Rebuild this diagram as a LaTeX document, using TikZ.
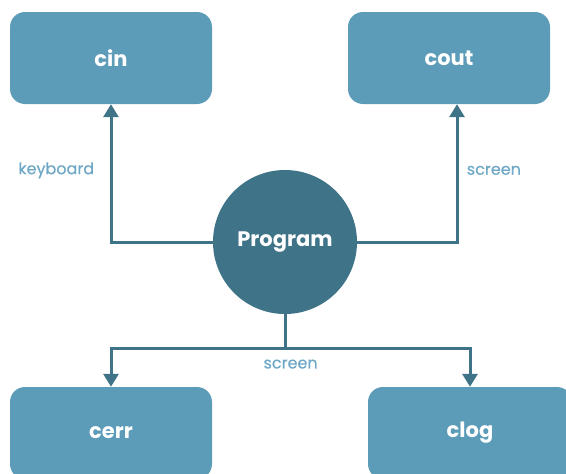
\documentclass[tikz,border=0pt]{standalone}
\usepackage{fontspec}
\setmainfont{Poppins}
\newfontfamily\lblfont[FakeBold=0.5]{Poppins}
\usepackage{xcolor}
\usepackage{tikz}
\usetikzlibrary{arrows.meta,positioning,shapes.geometric}

\definecolor{boxblue}{HTML}{5C9CB9}
\definecolor{deepblue}{HTML}{3E7388}
\definecolor{lblblue}{HTML}{6FA8C6}

\begin{document}
\begin{tikzpicture}[
x=1pt, y=-1pt,
stream/.style={rounded corners=15pt, fill=boxblue, text=white, font=\fontsize{21}{25}\selectfont\bfseries, minimum width=202pt, minimum height=92pt},
prog/.style={circle, fill=deepblue, text=white, font=\fontsize{21}{25}\selectfont\bfseries, minimum size=144pt, inner sep=0pt},
arr/.style={-{Triangle[length=13pt, width=15pt]}, line width=3pt, draw=deepblue},
lbl/.style={text=lblblue, font=\lblfont\fontsize{16}{19}\selectfont}
]
\useasboundingbox (0,0) rectangle (566,474);

\node[prog] (prog) at (285,242) {Program};
\node[stream] (cin) at (111,58) {cin};
\node[stream] (cout) at (449,58) {cout};
\node[stream] (cerr) at (111,433) {cerr};
\node[stream, minimum width=204pt] (clog) at (470,433) {clog};
\coordinate (split) at (prog.south |- 0,348);

\draw[arr] (prog.west) -| node[lbl, pos=0.76, left=12pt] {keyboard} (cin.south);
\draw[arr] (prog.east) -| node[lbl, pos=0.76, right=5pt] {screen} ([xshift=8pt]cout.south);
\draw[line width=3pt, draw=deepblue] (prog.south) -- (split);
\draw[arr] (split) -| (cerr.north);
\draw[arr] (split) -| (clog.north);
\node[lbl, below right=8pt and -25pt of split] (scr) {screen};
\end{tikzpicture}
\end{document}
